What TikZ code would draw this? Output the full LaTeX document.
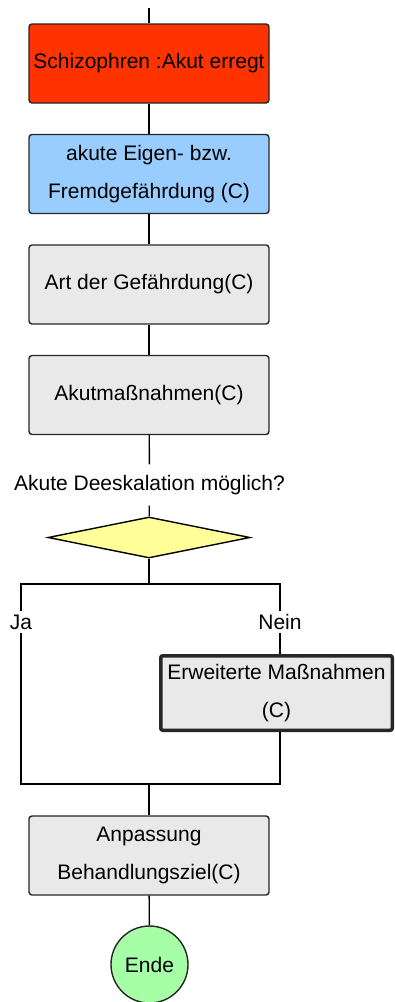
\documentclass[tikz,border=0pt]{standalone}
\usepackage{fontspec}
\setmainfont{Liberation Sans}
\usetikzlibrary{shapes.geometric}
\definecolor{acutered}{HTML}{FF3300}
\definecolor{stepblue}{HTML}{99CCFF}
\definecolor{stepgray}{HTML}{E9E9E9}
\definecolor{decyellow}{HTML}{FFFF99}
\definecolor{endgreen}{HTML}{A6FFA6}
\begin{document}
\begin{tikzpicture}[x=1pt, y=-1pt, line width=1.4pt,
    font={\fontsize{21}{38}\selectfont},
    box/.style={draw=black!85, fill=stepgray, rounded corners=3pt,
      minimum width=240, minimum height=79, inner sep=0pt, align=center},
    label/.style={inner sep=0pt, minimum height=20}]
  \useasboundingbox (0,0) rectangle (394,1002);
  % Steps
  \coordinate (top) at (149,8);
  \node[box, fill=acutered] (n1) at (149,63.5) {Schizophren :Akut erregt};
  \node[box, fill=stepblue] (n2) at (149,174) {akute Eigen- bzw.\\Fremdgefährdung (C)};
  \node[box] (n3) at (149,284.5) {Art der Gefährdung(C)};
  \node[box] (n4) at (149,395) {Akutmaßnahmen(C)};
  \draw (top) -- (n1);
  \foreach \a/\b in {n1/n2, n2/n3, n3/n4} {
    \draw (\a) -- (\b);
  }
  % Decision
  \node[inner sep=0pt, minimum height=40] (q) at (149.5,485) {Akute Deeskalation möglich?};
  \node[diamond, draw, fill=decyellow, aspect=5, inner sep=0pt,
    minimum width=202, minimum height=41] (d) at (149,537.5) {};
  \draw (n4) -- (q);
  \draw (q) -- (d);
  % Branches
  \coordinate (split) at (149,584);
  \coordinate (join) at (149,784);
  \node[label] (ja) at (21,622) {Ja};
  \node[label] (nein) at (280,622) {Nein};
  \node[box, line width=3.5pt, rounded corners=2pt, minimum width=231.5,
    minimum height=74.5] (n5) at (276.5,693) {Erweiterte Maßnahmen\\(C)};
  \draw (d) -- (split);
  \draw (split) -| (ja.north);
  \draw (split) -| (nein.north);
  \draw (ja.south) |- (join);
  \draw (nein.south) -- (nein |- n5.north);
  \draw (n5.south -| nein) |- (join);
  % End
  \node[box] (n6) at (149,855.5) {Anpassung\\Behandlungsziel(C)};
  \node[circle, draw=black!85, fill=endgreen, minimum size=77, inner sep=0pt] (ende) at (149.5,964.5) {Ende};
  \draw (join) -- (n6);
  \draw (n6) -- (ende);
\end{tikzpicture}
\end{document}
